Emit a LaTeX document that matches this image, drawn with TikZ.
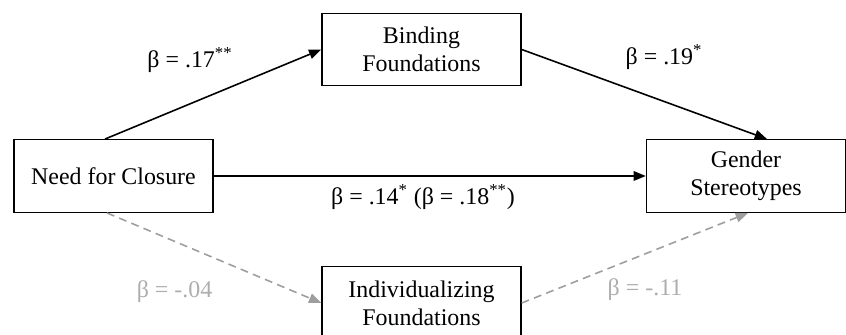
\documentclass[tikz,border=0pt]{standalone}
\usepackage{fontspec}
\setmainfont{Liberation Serif}
\usetikzlibrary{arrows.meta,calc}
\definecolor{nonsig}{gray}{0.62}
\definecolor{nonsiglabel}{gray}{0.68}
\begin{document}
\begin{tikzpicture}[
  box/.style={draw, line width=0.8pt, minimum width=3.98cm, minimum height=1.45cm, align=center, font=\fontsize{13.6}{15.9}\selectfont},
  sigpath/.style={line width=0.9pt, -{Triangle[length=7pt,width=5.5pt]}},
  nspath/.style={line width=0.9pt, nonsig, dash pattern=on 4.5pt off 3pt, -{Triangle[length=7pt,width=5.5pt]}},
  coef/.style={font=\fontsize{13.6}{15.9}\selectfont}]
  \useasboundingbox (0,0) rectangle (16.92,6.7);

  % Boxes
  \node[box] (nfc) at (2.27,3.18) {Need for Closure};
  \node[box] (binding) at (8.43,5.71) {Binding\\Foundations};
  \node[box] (gender) at (14.92,3.18) {Gender\\Stereotypes};
  \node[box] (indiv) at (8.43,0.64) {Individualizing\\Foundations};

  % Significant paths
  \draw[sigpath] ($(nfc.north)+(-0.17,0)$) -- (binding.west);
  \draw[sigpath] (binding.east) -- ($(gender.north)+(0.42,0)$);
  \draw[sigpath] (nfc.east) -- (gender.west);

  % Non-significant paths
  \draw[nspath] ($(nfc.south)+(-0.13,0)$) -- (indiv.west);
  \draw[nspath] (indiv.east) -- ($(gender.south)+(0.04,0)$);

  % Coefficients
  \node[coef] (c1) at (3.8,5.5) {β = .17\textsuperscript{**}};
  \node[coef] (c2) at (13.28,5.56) {β = .19\textsuperscript{*}};
  \node[coef] (c3) at (8.46,2.76) {β = .14\textsuperscript{*} (β = .18\textsuperscript{**})};
  \node[coef, nonsiglabel] (c4) at (3.49,0.86) {β = -.04};
  \node[coef, nonsiglabel] (c5) at (12.9,0.9) {β = -.11};
\end{tikzpicture}
\end{document}
